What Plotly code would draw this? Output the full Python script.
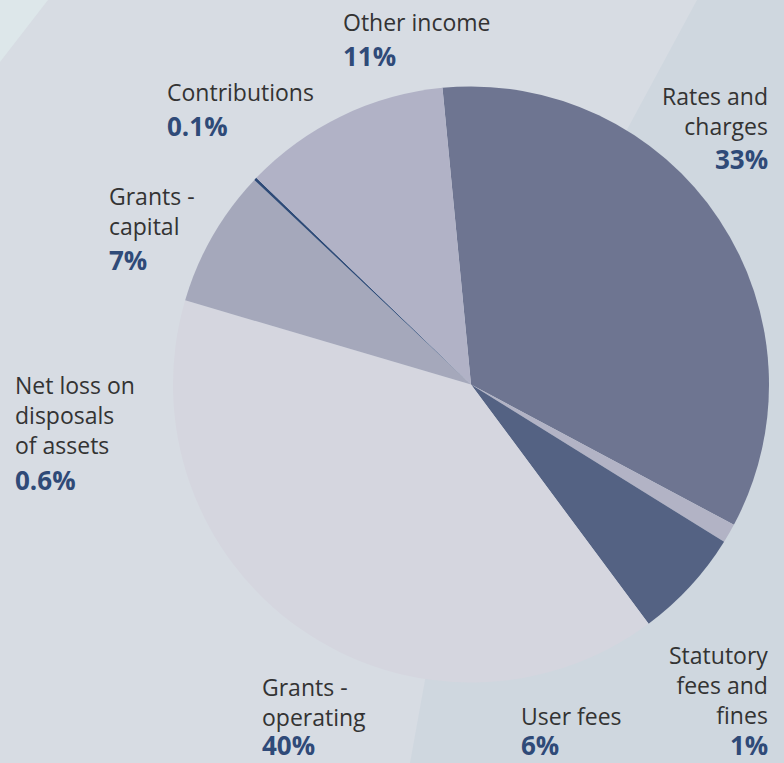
import plotly.graph_objects as go

# ---- data ----
slice_labels = ["Rates and charges", "Statutory fees and fines", "User fees",
                "Grants - operating", "Grants - capital", "Contributions", "Other income"]
slice_values = [34.4, 1.05, 6.0, 39.8, 7.5, 0.15, 11.3]
slice_colors = ["#6E7591", "#B2B3C5", "#546283", "#D5D6DF", "#A5A8BB", "#2E4A77", "#B1B2C6"]

label_names = ["Other income", "Contributions", "Grants -<br>capital",
               "Net loss on<br>disposals<br>of assets", "Grants -<br>operating",
               "User fees", "Statutory<br>fees and<br>fines", "Rates and<br>charges"]
label_pcts = ["11%", "0.1%", "7%", "0.6%", "40%", "6%", "1%", "33%"]

# label layout (pixel positions): x, anchor, name block centre y, pct centre y
label_x = [341, 165, 107, 13, 260, 519, 770, 770]
label_anchor = ["left", "left", "left", "left", "left", "left", "right", "right"]
name_cy = [22, 92, 211, 415, 702, 716, 685, 111]
pct_cy = [56, 126, 260, 480, 745, 745, 745, 159]

W, H = 784, 763
cx, cy, r = 471, 384.5, 298

fig = go.Figure(go.Pie(
    labels=slice_labels, values=slice_values,
    marker=dict(colors=slice_colors, line=dict(width=0)),
    sort=False, direction="clockwise", rotation=-5.5,
    textinfo="none", hoverinfo="skip", showlegend=False,
    domain=dict(x=[(cx - r) / W, (cx + r) / W], y=[1 - (cy + r) / H, 1 - (cy - r) / H]),
))

def px(x):
    return x / W

def py(y):
    return 1 - y / H

def path(points):
    return "M " + " L ".join(f"{px(x):.4f},{py(y):.4f}" for x, y in points) + " Z"

shapes = [
    dict(type="path", xref="paper", yref="paper", layer="below",
         path=path([(697, 0), (784, 0), (784, 763), (410, 763), (425, 680), (473, 415)]),
         fillcolor="#CFD7DF", line=dict(width=0)),
    dict(type="path", xref="paper", yref="paper", layer="below",
         path=path([(0, 0), (48, 0), (0, 62)]),
         fillcolor="#DDE7EA", line=dict(width=0)),
]

annotations = []
for name, pct, x, anc, ny, pyy in zip(label_names, label_pcts, label_x, label_anchor, name_cy, pct_cy):
    annotations.append(dict(
        text=name, x=px(x), y=py(ny), xref="paper", yref="paper",
        xanchor=anc, yanchor="middle", align=anc, showarrow=False,
        font=dict(family="Open Sans", size=23, color="#333333"),
    ))
    annotations.append(dict(
        text=f"<b>{pct}</b>", x=px(x), y=py(pyy), xref="paper", yref="paper",
        xanchor=anc, yanchor="middle", align=anc, showarrow=False,
        font=dict(family="Open Sans", size=26, color="#2F4A78"),
    ))

fig.update_layout(
    width=W, height=H, margin=dict(l=0, r=0, t=0, b=0),
    paper_bgcolor="#D7DCE3", plot_bgcolor="#D7DCE3",
    shapes=shapes, annotations=annotations,
)

fig.write_html(
    "out.html",
    config={"displayModeBar": False},
    post_script="document.body.style.margin='0';document.body.style.overflow='hidden';",
)
